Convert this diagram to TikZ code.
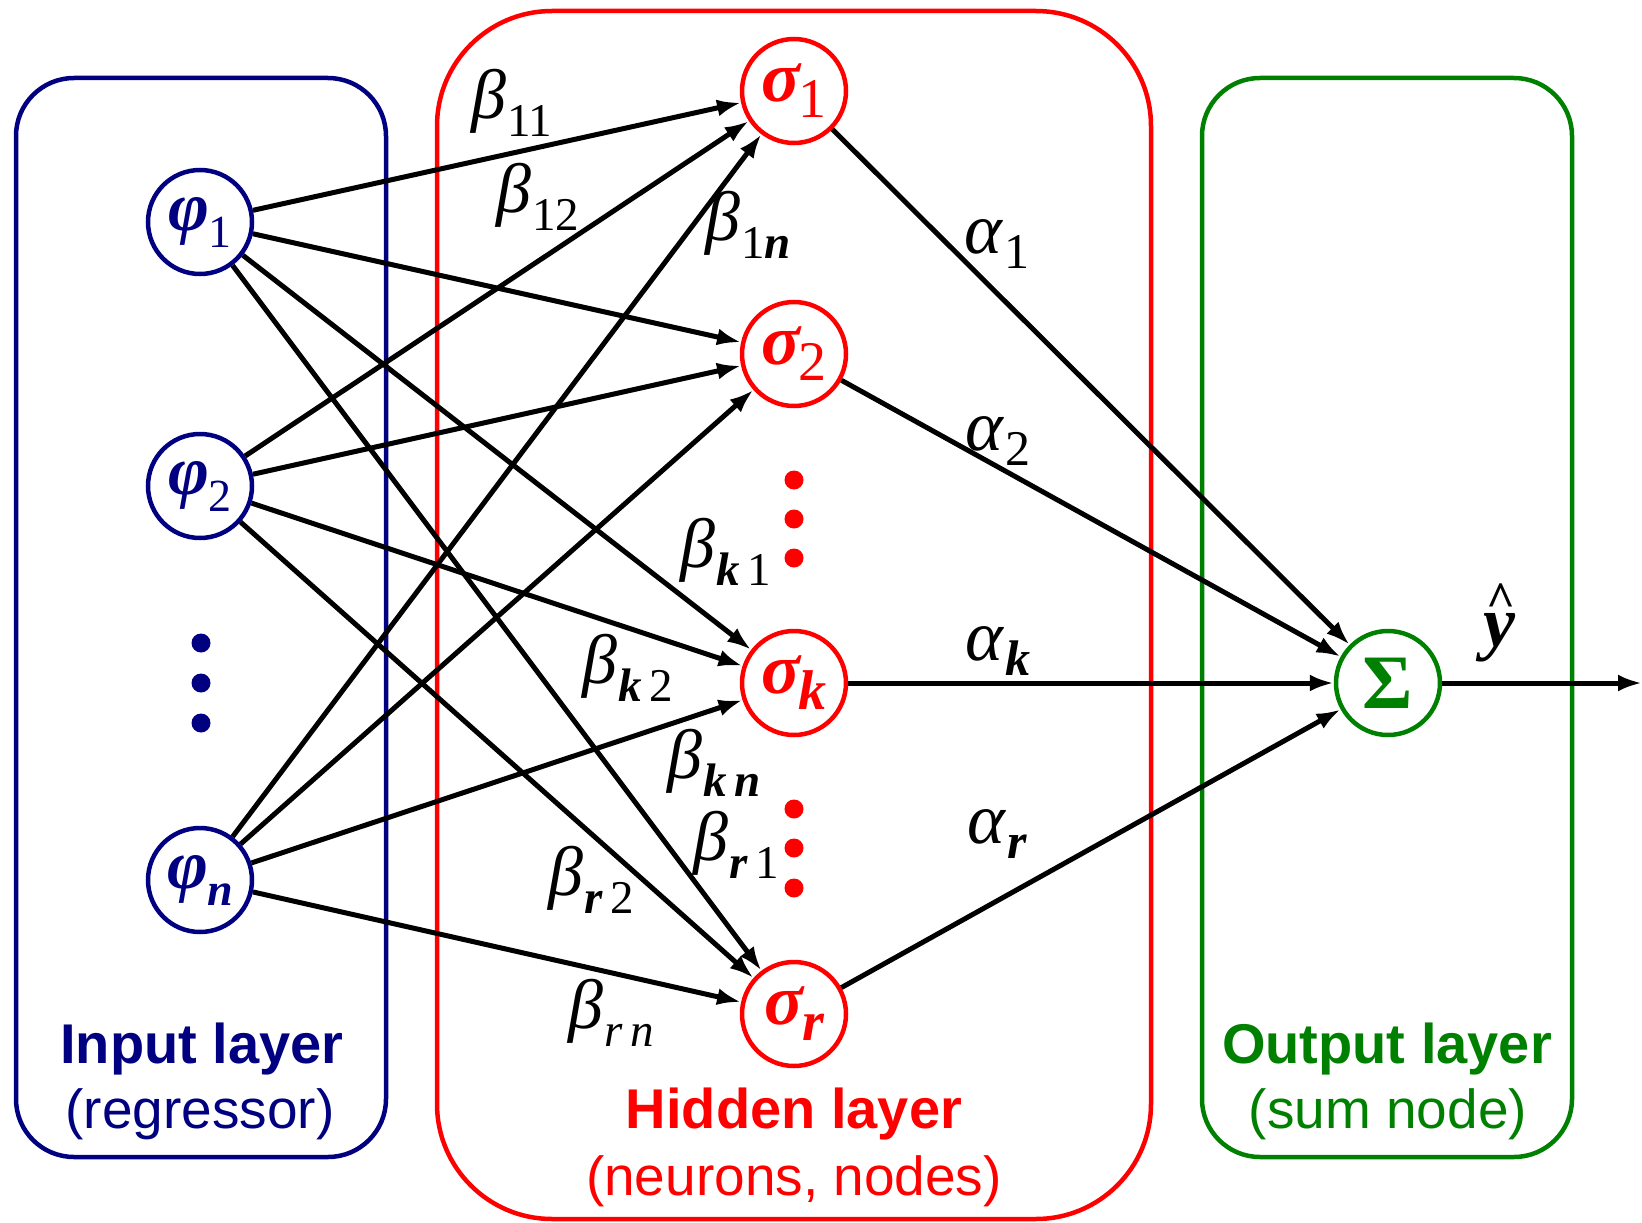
\documentclass[tikz,border=0pt]{standalone}
\usepackage{fontspec}
\setmainfont{Liberation Sans}
\newfontfamily\tms{Liberation Serif}
\usetikzlibrary{arrows.meta}
\definecolor{navy}{RGB}{0,0,128}
\definecolor{dgreen}{RGB}{0,128,0}
\definecolor{pred}{RGB}{255,0,0}
\newcommand\bi[1]{{\bfseries\itshape #1}}
\newcommand\bet[1]{{\tms\itshape\fontsize{70}{70}\selectfont β}\kern1pt\raisebox{-18pt}{\tms\fontsize{47}{47}\selectfont #1}}
\newcommand\alp[1]{{\tms\itshape\fontsize{72}{72}\selectfont α}\kern2pt\raisebox{-15pt}{\tms\fontsize{50}{50}\selectfont #1}}
\newcommand\phin[1]{{\tms\bfseries\itshape\fontsize{70}{70}\selectfont φ}\kern-1pt\raisebox{-17pt}{\tms\fontsize{46}{46}\selectfont #1}}
\newcommand\sig[1]{{\tms\bfseries\itshape\fontsize{72}{72}\selectfont σ}\kern-1pt\raisebox{-16pt}{\tms\fontsize{56}{56}\selectfont #1}}
\newcommand\yhat{{\tms\bfseries\itshape\fontsize{72}{72}\selectfont y\llap{\raisebox{30pt}{\upshape\fontsize{50}{50}\selectfont\symbol{94}}\kern0pt}}}
\begin{document}
\begin{tikzpicture}[x=1pt,y=-1pt,
  inode/.style={circle, draw=navy, line width=4.5pt, minimum size=104pt, inner sep=0pt, text=navy},
  hnode/.style={circle, draw=pred, line width=4.5pt, minimum size=104pt, inner sep=0pt, text=pred},
  onode/.style={circle, draw=dgreen, line width=4.5pt, minimum size=104pt, inner sep=0pt, text=dgreen},
  conn/.style={line width=5pt, -{Latex[length=24pt,width=17pt]}},
  lbl/.style={anchor=base west, inner sep=0pt},
  ttl/.style={anchor=base, inner sep=0pt, font=\fontsize{56}{56}\selectfont\bfseries},
  sttl/.style={anchor=base, inner sep=0pt, font=\fontsize{55}{55}\selectfont},
  layerbox/.style={line width=4.5pt}
]
\useasboundingbox (0,0) rectangle (1642,1223);
% layer boxes
\draw[layerbox, navy, rounded corners=58pt] (16,78) rectangle (386,1157);
\draw[layerbox, pred, rounded corners=115pt] (437,11) rectangle (1151,1219);
\draw[layerbox, dgreen, rounded corners=58pt] (1202,78) rectangle (1572,1157);
% titles
\node[ttl, text=navy] (tin) at (202,1063) {Input layer};
\node[sttl, text=navy] (tin2) at (200,1128) {(regressor)};
\node[ttl, text=pred] (thid) at (794,1128) {Hidden layer};
\node[sttl, text=pred] (thid2) at (794,1195) {(neurons, nodes)};
\node[ttl, text=dgreen] (tout) at (1387,1063) {Output layer};
\node[sttl, text=dgreen] (tout2) at (1388,1128) {(sum node)};
% nodes
\node[inode] (p1) at (200,222) {\phin{1}};
\node[inode] (p2) at (200,486) {\phin{2}};
\node[inode] (pn) at (200,880) {\phin{\bi{n}}};
\node[hnode] (s1) at (794,91) {\sig{1}};
\node[hnode] (s2) at (794,354) {\sig{2}};
\node[hnode] (sk) at (794,683) {\sig{\bi{k}}};
\node[hnode] (sr) at (794,1014) {\sig{\bi{r}}};
\node[onode] (S) at (1388,683) {{\tms\bfseries\fontsize{77}{77}\selectfont Σ}};
\coordinate (out) at (1642,683);
% dots
\foreach \y in {643,683,723} \fill[navy] (201,\y) circle (9.5);
\foreach \y in {480,519,558,809,848,888} \fill[pred] (794,\y) circle (9.5);
% connections
\foreach \a in {p1,p2,pn}
  \foreach \b in {s1,s2,sk,sr}
    \draw[conn] (\a) -- (\b);
\foreach \b in {s1,s2,sk,sr}
  \draw[conn] (\b) -- (S);
\draw[conn] (S) -- (out);
% weight labels
\node[lbl] (b11) at (471,118) {\bet{11}};
\node[lbl] (b12) at (496,212) {\bet{12}};
\node[lbl] (b1n) at (705,240) {\bet{1\bi{n}}};
\node[lbl] (bk1) at (680,567) {\bet{\bi{k}\,1}};
\node[lbl] (bk2) at (582,683) {\bet{\bi{k}\,2}};
\node[lbl] (bkn) at (667,778) {\bet{\bi{k}\,\bi{n}}};
\node[lbl] (br1) at (693,860) {\bet{\bi{r}\,1}};
\node[lbl] (br2) at (548,895) {\bet{\bi{r}\,2}};
\node[lbl] (brn) at (568,1028) {\bet{\textit{r\,n}}};
\node[lbl] (a1) at (964,253) {\alp{1}};
\node[lbl] (a2) at (965,450) {\alp{2}};
\node[lbl] (ak) at (965,660) {\alp{\bi{k}}};
\node[lbl] (ar) at (967,843) {\alp{\bi{r}}};
\node[lbl] (yh) at (1483,646) {\yhat};
\end{tikzpicture}
\end{document}
